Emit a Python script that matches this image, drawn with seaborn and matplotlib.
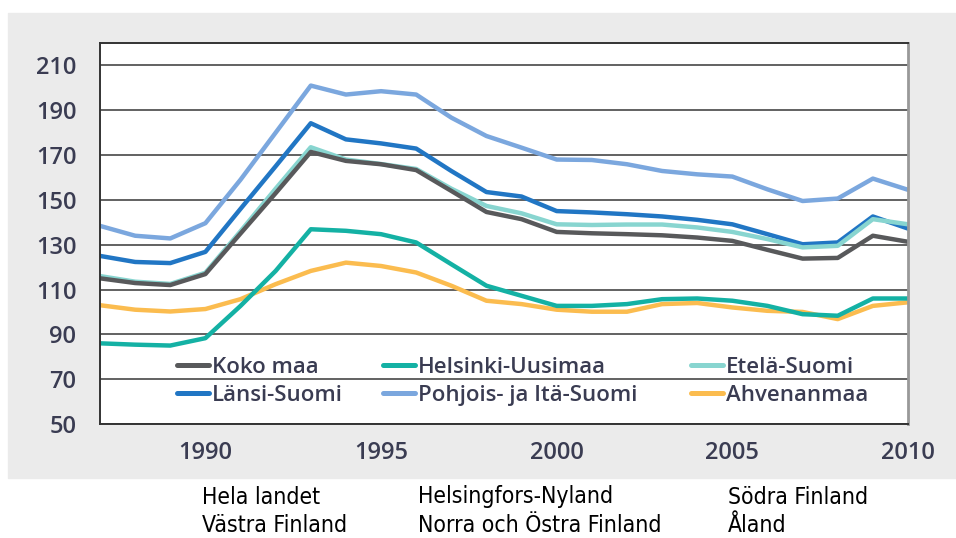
import seaborn as sns
import matplotlib.pyplot as plt
import pandas as pd
import numpy as np
from matplotlib.lines import Line2D
from matplotlib.patches import Rectangle
from matplotlib.ticker import MultipleLocator

years = list(range(1987, 2011))

koko_maa = [115, 112.9, 112, 116.9, 135, 153, 171.4, 167.4, 165.9, 163.3, 154, 144.6,
            141.4, 135.7, 135.1, 134.7, 134.2, 133.2, 131.7, 127.7, 123.8, 124.1, 134, 131.3]
helsinki_uusimaa = [86, 85.4, 85, 88.3, 102.7, 118.3, 136.9, 136.2, 134.7, 131, 121.3, 111.7,
                    107.2, 102.7, 102.7, 103.5, 105.7, 106, 105, 102.7, 99, 98.3, 106, 106]
etela_suomi = [116, 113.5, 112.5, 117.5, 136, 155, 173.5, 168, 166, 163.8, 155, 147.3,
               144, 139.1, 138.8, 139, 139, 137.7, 135.7, 132.5, 128.8, 129.5, 141.4, 139.1]
lansi_suomi = [125, 122.3, 121.8, 126.8, 146, 165, 184.2, 177, 175.2, 172.9, 162.9, 153.5,
               151.5, 145, 144.4, 143.6, 142.6, 141.1, 139.1, 134.7, 130.2, 131, 142.6, 137.2]
pohjois_ita = [138.4, 134, 132.8, 139.6, 159, 180, 201, 197, 198.5, 197, 186.7, 178.5,
               173.3, 168, 167.8, 165.9, 162.9, 161.4, 160.4, 154.7, 149.5, 150.6, 159.5, 154.5]
ahvenanmaa = [103, 101, 100.2, 101.3, 105.7, 112.4, 118.3, 122, 120.5, 117.6, 111.7, 105,
              103.5, 101, 100.1, 100.1, 103.5, 104, 102, 100.5, 100, 96.8, 102.7, 104.3]

series = {
    "Koko maa": koko_maa,
    "Helsinki-Uusimaa": helsinki_uusimaa,
    "Etelä-Suomi": etela_suomi,
    "Länsi-Suomi": lansi_suomi,
    "Pohjois- ja Itä-Suomi": pohjois_ita,
    "Ahvenanmaa": ahvenanmaa,
}
colors = {
    "Koko maa": "#58595b",
    "Helsinki-Uusimaa": "#14b1a4",
    "Etelä-Suomi": "#88d5d0",
    "Länsi-Suomi": "#2176c4",
    "Pohjois- ja Itä-Suomi": "#7ba7de",
    "Ahvenanmaa": "#fbbc4f",
}
draw_order = ["Pohjois- ja Itä-Suomi", "Länsi-Suomi", "Etelä-Suomi", "Koko maa",
              "Ahvenanmaa", "Helsinki-Uusimaa"]
legend_cols = [["Koko maa", "Länsi-Suomi"],
               ["Helsinki-Uusimaa", "Pohjois- ja Itä-Suomi"],
               ["Etelä-Suomi", "Ahvenanmaa"]]
swedish_cols = [["Hela landet", "Västra Finland"],
                ["Helsingfors-Nyland", "Norra och Östra Finland"],
                ["Södra Finland", "Åland"]]

df = pd.DataFrame([(y, name, v) for name, vals in series.items() for y, v in zip(years, vals)],
                  columns=["year", "region", "value"])

sns.set_style("white")
plt.rcParams["font.family"] = ["Open Sans", "DejaVu Sans"]

W, H = 956, 538
fig = plt.figure(figsize=(W / 100, H / 100), dpi=100)
fig.patches.append(Rectangle((8 / W, 1 - 478 / H), (W - 8) / W, (478 - 13) / H,
                             transform=fig.transFigure, color="#ebebeb", zorder=-10))
ax = fig.add_axes([100 / W, 1 - 424 / H, 808 / W, (424 - 43) / H])
ax.set_zorder(2)
ax.set_facecolor("white")

sns.lineplot(data=df, x="year", y="value", hue="region", hue_order=draw_order,
             palette=colors, linewidth=3.2, legend=False, ax=ax)

ax.set_xlim(1987, 2010)
ax.set_ylim(50, 220)
ax.set_xlabel("")
ax.set_ylabel("")
ax.yaxis.set_major_locator(MultipleLocator(20))
ax.yaxis.set_minor_locator(MultipleLocator(5))
ax.set_yticks(np.arange(50, 211, 20))
ax.xaxis.set_major_locator(MultipleLocator(5))
ax.xaxis.set_minor_locator(MultipleLocator(1))
ax.grid(axis="y", color="#555555", linewidth=1.3)
ax.set_axisbelow(True)
for s in ax.spines.values():
    s.set_color("#333333")
    s.set_linewidth(1.4)
ax.spines["right"].set_color("#999999")
ax.spines["right"].set_linewidth(2)

lab_color = "#3a3c52"
ax.tick_params(axis="y", which="major", direction="out", length=9, width=1.4,
               color="#444444", labelsize=17, labelcolor=lab_color, pad=8)
ax.tick_params(axis="y", which="minor", direction="out", length=4, width=1.2, color="#444444")
ax.tick_params(axis="x", which="both", direction="out", length=9, width=1.6,
               color="#666666", labelsize=17, labelcolor=lab_color, pad=3)
for lbl in ax.get_xticklabels() + ax.get_yticklabels():
    lbl.set_fontweight("semibold")

# three one-column legends, so each column sits where it does in the original
legend_x = [177, 383, 691]
legends = []
for x0, names in zip(legend_x, legend_cols):
    handles = [Line2D([], [], color=colors[n], linewidth=3.6) for n in names]
    leg = ax.legend(handles, names, loc="upper left",
                    bbox_to_anchor=((x0 - 100) / 808, (424 - 357) / (424 - 43)),
                    frameon=False, handlelength=1.45, handletextpad=0.12,
                    borderpad=0, borderaxespad=0, labelspacing=0.3,
                    prop={"size": 16, "weight": "semibold"}, labelcolor=lab_color)
    legends.append(leg)
for leg in legends[:-1]:
    ax.add_artist(leg)

sw_x = [202, 418, 728]
for x0, names in zip(sw_x, swedish_cols):
    for i, t in enumerate(names):
        fig.text(x0 / W, 1 - (497 + 29 * i) / H, t, ha="left", va="center", fontsize=16.5,
                 color="black", family="DejaVu Sans", fontstretch="condensed")

fig.savefig("out.png", dpi=100)
